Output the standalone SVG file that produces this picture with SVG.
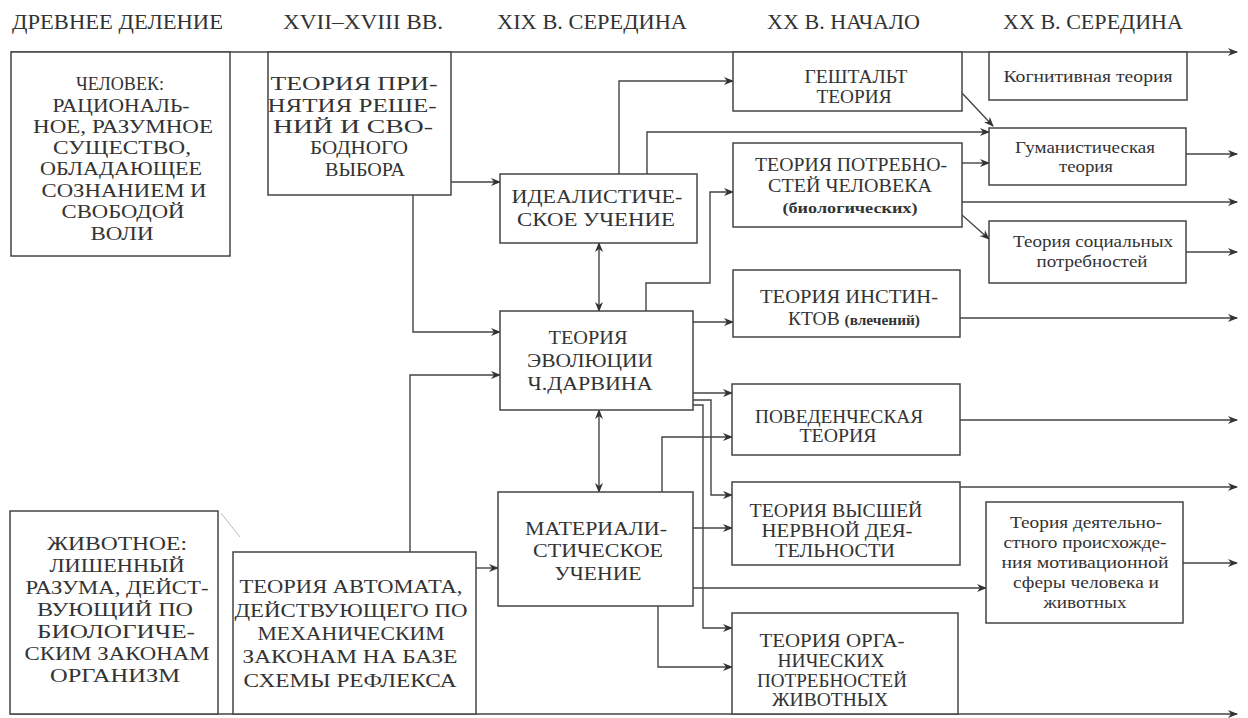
<svg xmlns="http://www.w3.org/2000/svg" width="1248" height="718" viewBox="0 0 1248 718">
<style>
.b{fill:#fff;stroke:#444;stroke-width:1.5}
.c path{fill:none;stroke:#444;stroke-width:1.4}
text{fill:#333;text-anchor:middle}
.h{font-size:20px;text-anchor:start}
.t{font-size:19px}
.s{font-size:16px}
.sb{font-size:15px;font-weight:bold}
</style>
<defs>
<marker id="a" viewBox="0 0 10 10" refX="9" refY="5" markerWidth="10" markerHeight="10" markerUnits="userSpaceOnUse" orient="auto-start-reverse"><path d="M0,1 L10,5 L0,9 L3,5z" fill="#333"/></marker>
</defs>
<rect width="1248" height="718" fill="#fff"/>
<g id="headers">
<text style="font-family:'Liberation Serif',serif" class="h" x="12" y="29" textLength="211" lengthAdjust="spacingAndGlyphs">ДРЕВНЕЕ ДЕЛЕНИЕ</text>
<text style="font-family:'Liberation Serif',serif" class="h" x="283" y="29" textLength="160" lengthAdjust="spacingAndGlyphs">XVII–XVIII ВВ.</text>
<text style="font-family:'Liberation Serif',serif" class="h" x="497" y="29" textLength="190" lengthAdjust="spacingAndGlyphs">XIX В. СЕРЕДИНА</text>
<text style="font-family:'Liberation Serif',serif" class="h" x="767" y="29" textLength="153" lengthAdjust="spacingAndGlyphs">XX В. НАЧАЛО</text>
<text style="font-family:'Liberation Serif',serif" class="h" x="1003" y="29" textLength="180" lengthAdjust="spacingAndGlyphs">XX В. СЕРЕДИНА</text>
</g>
<g class="c" id="connectors">
<path d="M11,52 H1237" marker-end="url(#a)"/>
<path d="M10,714 H1237" marker-end="url(#a)"/>
<path d="M451,182 H500" marker-end="url(#a)"/>
<path d="M413,195 V332 H500" marker-end="url(#a)"/>
<path d="M410,552 V375 H500" marker-end="url(#a)"/>
<path d="M476,568 H498" marker-end="url(#a)"/>
<path d="M599,243 V311" marker-start="url(#a)" marker-end="url(#a)"/>
<path d="M599,410 V492" marker-start="url(#a)" marker-end="url(#a)"/>
<path d="M619,174 V81 H733" marker-end="url(#a)"/>
<path d="M647,174 V132 H989" marker-end="url(#a)"/>
<path d="M646,311 V283 H710 V192 H733" marker-end="url(#a)"/>
<path d="M693,322 H733" marker-end="url(#a)"/>
<path d="M693,393 H732" marker-end="url(#a)"/>
<path d="M693,400 H711 V495 H732" marker-end="url(#a)"/>
<path d="M693,405 H703 V628 H732" marker-end="url(#a)"/>
<path d="M662,492 V437 H732" marker-end="url(#a)"/>
<path d="M693,528 H732" marker-end="url(#a)"/>
<path d="M693,588 H986" marker-end="url(#a)"/>
<path d="M658,606 V667 H732" marker-end="url(#a)"/>
<path d="M962,93 L993,126" marker-end="url(#a)"/>
<path d="M962,163 H989" marker-end="url(#a)"/>
<path d="M962,202 H1237" marker-end="url(#a)"/>
<path d="M962,215 L989,239" marker-end="url(#a)"/>
<path d="M1186,154 H1237" marker-end="url(#a)"/>
<path d="M1186,252 H1237" marker-end="url(#a)"/>
<path d="M960,318 H1237" marker-end="url(#a)"/>
<path d="M960,420 H1237" marker-end="url(#a)"/>
<path d="M960,487 H1237" marker-end="url(#a)"/>
<path d="M1183,563 H1237" marker-end="url(#a)"/>
<path d="M221,513 L240,537" style="stroke:#bbb;stroke-width:1"/>
</g>
<g id="n1"><rect class="b" x="11" y="52" width="219" height="204"/>
<text style="font-family:'Liberation Serif',serif" class="t" x="120" y="90" textLength="88" lengthAdjust="spacingAndGlyphs">ЧЕЛОВЕК:</text>
<text style="font-family:'Liberation Serif',serif" class="t" x="121" y="112" textLength="137" lengthAdjust="spacingAndGlyphs">РАЦИОНАЛЬ-</text>
<text style="font-family:'Liberation Serif',serif" class="t" x="123" y="133" textLength="180" lengthAdjust="spacingAndGlyphs">НОЕ, РАЗУМНОЕ</text>
<text style="font-family:'Liberation Serif',serif" class="t" x="122" y="154" textLength="138" lengthAdjust="spacingAndGlyphs">СУЩЕСТВО,</text>
<text style="font-family:'Liberation Serif',serif" class="t" x="121" y="175" textLength="162" lengthAdjust="spacingAndGlyphs">ОБЛАДАЮЩЕЕ</text>
<text style="font-family:'Liberation Serif',serif" class="t" x="124" y="197" textLength="165" lengthAdjust="spacingAndGlyphs">СОЗНАНИЕМ И</text>
<text style="font-family:'Liberation Serif',serif" class="t" x="123" y="218" textLength="123" lengthAdjust="spacingAndGlyphs">СВОБОДОЙ</text>
<text style="font-family:'Liberation Serif',serif" class="t" x="122" y="240" textLength="63" lengthAdjust="spacingAndGlyphs">ВОЛИ</text></g>
<g id="n2"><rect class="b" x="268" y="52" width="183" height="143"/>
<text style="font-family:'Liberation Serif',serif" class="t" x="354" y="90" textLength="167" lengthAdjust="spacingAndGlyphs">ТЕОРИЯ ПРИ-</text>
<text style="font-family:'Liberation Serif',serif" class="t" x="352" y="112" textLength="169" lengthAdjust="spacingAndGlyphs">НЯТИЯ РЕШЕ-</text>
<text style="font-family:'Liberation Serif',serif" class="t" x="353" y="133" textLength="160" lengthAdjust="spacingAndGlyphs">НИЙ И СВО-</text>
<text style="font-family:'Liberation Serif',serif" class="t" x="359" y="154" textLength="98" lengthAdjust="spacingAndGlyphs">БОДНОГО</text>
<text style="font-family:'Liberation Serif',serif" class="t" x="365" y="176" textLength="80" lengthAdjust="spacingAndGlyphs">ВЫБОРА</text></g>
<g id="n3"><rect class="b" x="10" y="511" width="208" height="203"/>
<text style="font-family:'Liberation Serif',serif" class="t" x="117" y="550" textLength="140" lengthAdjust="spacingAndGlyphs">ЖИВОТНОЕ:</text>
<text style="font-family:'Liberation Serif',serif" class="t" x="117" y="572" textLength="135" lengthAdjust="spacingAndGlyphs">ЛИШЕННЫЙ</text>
<text style="font-family:'Liberation Serif',serif" class="t" x="117" y="594" textLength="183" lengthAdjust="spacingAndGlyphs">РАЗУМА, ДЕЙСТ-</text>
<text style="font-family:'Liberation Serif',serif" class="t" x="115" y="616" textLength="156" lengthAdjust="spacingAndGlyphs">ВУЮЩИЙ ПО</text>
<text style="font-family:'Liberation Serif',serif" class="t" x="116" y="638" textLength="158" lengthAdjust="spacingAndGlyphs">БИОЛОГИЧЕ-</text>
<text style="font-family:'Liberation Serif',serif" class="t" x="117" y="660" textLength="185" lengthAdjust="spacingAndGlyphs">СКИМ ЗАКОНАМ</text>
<text style="font-family:'Liberation Serif',serif" class="t" x="115" y="682" textLength="130" lengthAdjust="spacingAndGlyphs">ОРГАНИЗМ</text></g>
<g id="n4"><rect class="b" x="233" y="552" width="243" height="162"/>
<text style="font-family:'Liberation Serif',serif" class="t" x="351" y="593" textLength="223" lengthAdjust="spacingAndGlyphs">ТЕОРИЯ АВТОМАТА,</text>
<text style="font-family:'Liberation Serif',serif" class="t" x="351" y="617" textLength="233" lengthAdjust="spacingAndGlyphs">ДЕЙСТВУЮЩЕГО ПО</text>
<text style="font-family:'Liberation Serif',serif" class="t" x="351" y="640" textLength="187" lengthAdjust="spacingAndGlyphs">МЕХАНИЧЕСКИМ</text>
<text style="font-family:'Liberation Serif',serif" class="t" x="350" y="663" textLength="215" lengthAdjust="spacingAndGlyphs">ЗАКОНАМ НА БАЗЕ</text>
<text style="font-family:'Liberation Serif',serif" class="t" x="350" y="687" textLength="213" lengthAdjust="spacingAndGlyphs">СХЕМЫ РЕФЛЕКСА</text></g>
<g id="n5"><rect class="b" x="500" y="174" width="197" height="69"/>
<text style="font-family:'Liberation Serif',serif" class="t" x="597" y="203" textLength="171" lengthAdjust="spacingAndGlyphs">ИДЕАЛИСТИЧЕ-</text>
<text style="font-family:'Liberation Serif',serif" class="t" x="596" y="226" textLength="158" lengthAdjust="spacingAndGlyphs">СКОЕ УЧЕНИЕ</text></g>
<g id="n6"><rect class="b" x="500" y="311" width="193" height="99"/>
<text style="font-family:'Liberation Serif',serif" class="t" x="588" y="344" textLength="79" lengthAdjust="spacingAndGlyphs">ТЕОРИЯ</text>
<text style="font-family:'Liberation Serif',serif" class="t" x="590" y="367" textLength="126" lengthAdjust="spacingAndGlyphs">ЭВОЛЮЦИИ</text>
<text style="font-family:'Liberation Serif',serif" class="t" x="590" y="390" textLength="125" lengthAdjust="spacingAndGlyphs">Ч.ДАРВИНА</text></g>
<g id="n7"><rect class="b" x="498" y="492" width="195" height="114"/>
<text style="font-family:'Liberation Serif',serif" class="t" x="596" y="535" textLength="142" lengthAdjust="spacingAndGlyphs">МАТЕРИАЛИ-</text>
<text style="font-family:'Liberation Serif',serif" class="t" x="598" y="557" textLength="130" lengthAdjust="spacingAndGlyphs">СТИЧЕСКОЕ</text>
<text style="font-family:'Liberation Serif',serif" class="t" x="598" y="580" textLength="87" lengthAdjust="spacingAndGlyphs">УЧЕНИЕ</text></g>
<g id="n8"><rect class="b" x="733" y="52" width="229" height="59"/>
<text style="font-family:'Liberation Serif',serif" class="t" x="856" y="83" textLength="103" lengthAdjust="spacingAndGlyphs">ГЕШТАЛЬТ</text>
<text style="font-family:'Liberation Serif',serif" class="t" x="854" y="103" textLength="75" lengthAdjust="spacingAndGlyphs">ТЕОРИЯ</text></g>
<g id="n9"><rect class="b" x="733" y="143" width="229" height="84"/>
<text style="font-family:'Liberation Serif',serif" class="t" x="851" y="171" textLength="192" lengthAdjust="spacingAndGlyphs">ТЕОРИЯ ПОТРЕБНО-</text>
<text style="font-family:'Liberation Serif',serif" class="t" x="850" y="192" textLength="164" lengthAdjust="spacingAndGlyphs">СТЕЙ ЧЕЛОВЕКА</text>
<text style="font-family:'Liberation Serif',serif" class="sb" x="850" y="213" textLength="135" lengthAdjust="spacingAndGlyphs">(биологических)</text></g>
<g id="n10"><rect class="b" x="733" y="270" width="227" height="67"/>
<text style="font-family:'Liberation Serif',serif" class="t" x="849" y="303" textLength="178" lengthAdjust="spacingAndGlyphs">ТЕОРИЯ ИНСТИН-</text>
<text style="font-family:'Liberation Serif',serif" class="t" x="854" y="325" textLength="132" lengthAdjust="spacingAndGlyphs">КТОВ <tspan class="sb">(влечений)</tspan></text></g>
<g id="n11"><rect class="b" x="732" y="384" width="228" height="71"/>
<text style="font-family:'Liberation Serif',serif" class="t" x="839" y="423" textLength="168" lengthAdjust="spacingAndGlyphs">ПОВЕДЕНЧЕСКАЯ</text>
<text style="font-family:'Liberation Serif',serif" class="t" x="838" y="442" textLength="77" lengthAdjust="spacingAndGlyphs">ТЕОРИЯ</text></g>
<g id="n12"><rect class="b" x="732" y="482" width="228" height="83"/>
<text style="font-family:'Liberation Serif',serif" class="t" x="836" y="517" textLength="173" lengthAdjust="spacingAndGlyphs">ТЕОРИЯ ВЫСШЕЙ</text>
<text style="font-family:'Liberation Serif',serif" class="t" x="837" y="537" textLength="151" lengthAdjust="spacingAndGlyphs">НЕРВНОЙ ДЕЯ-</text>
<text style="font-family:'Liberation Serif',serif" class="t" x="835" y="557" textLength="120" lengthAdjust="spacingAndGlyphs">ТЕЛЬНОСТИ</text></g>
<g id="n13"><rect class="b" x="732" y="613" width="226" height="101"/>
<text style="font-family:'Liberation Serif',serif" class="t" x="832" y="647" textLength="145" lengthAdjust="spacingAndGlyphs">ТЕОРИЯ ОРГА-</text>
<text style="font-family:'Liberation Serif',serif" class="t" x="831" y="667" textLength="107" lengthAdjust="spacingAndGlyphs">НИЧЕСКИХ</text>
<text style="font-family:'Liberation Serif',serif" class="t" x="832" y="687" textLength="150" lengthAdjust="spacingAndGlyphs">ПОТРЕБНОСТЕЙ</text>
<text style="font-family:'Liberation Serif',serif" class="t" x="830" y="706" textLength="116" lengthAdjust="spacingAndGlyphs">ЖИВОТНЫХ</text></g>
<g id="n14"><rect class="b" x="989" y="52" width="198" height="48"/>
<text style="font-family:'Liberation Serif',serif" class="s" x="1088" y="82" textLength="169" lengthAdjust="spacingAndGlyphs">Когнитивная теория</text></g>
<g id="n15"><rect class="b" x="989" y="128" width="197" height="57"/>
<text style="font-family:'Liberation Serif',serif" class="s" x="1085" y="153" textLength="140" lengthAdjust="spacingAndGlyphs">Гуманистическая</text>
<text style="font-family:'Liberation Serif',serif" class="s" x="1086" y="172" textLength="54" lengthAdjust="spacingAndGlyphs">теория</text></g>
<g id="n16"><rect class="b" x="989" y="221" width="197" height="62"/>
<text style="font-family:'Liberation Serif',serif" class="s" x="1093" y="247" textLength="160" lengthAdjust="spacingAndGlyphs">Теория социальных</text>
<text style="font-family:'Liberation Serif',serif" class="s" x="1092" y="267" textLength="111" lengthAdjust="spacingAndGlyphs">потребностей</text></g>
<g id="n17"><rect class="b" x="986" y="502" width="197" height="121"/>
<text style="font-family:'Liberation Serif',serif" class="s" x="1086" y="528" textLength="152" lengthAdjust="spacingAndGlyphs">Теория деятельно-</text>
<text style="font-family:'Liberation Serif',serif" class="s" x="1085" y="548" textLength="163" lengthAdjust="spacingAndGlyphs">стного происхожде-</text>
<text style="font-family:'Liberation Serif',serif" class="s" x="1085" y="568" textLength="167" lengthAdjust="spacingAndGlyphs">ния мотивационной</text>
<text style="font-family:'Liberation Serif',serif" class="s" x="1086" y="588" textLength="146" lengthAdjust="spacingAndGlyphs">сферы человека и</text>
<text style="font-family:'Liberation Serif',serif" class="s" x="1085" y="608" textLength="83" lengthAdjust="spacingAndGlyphs">животных</text></g>
</svg>
